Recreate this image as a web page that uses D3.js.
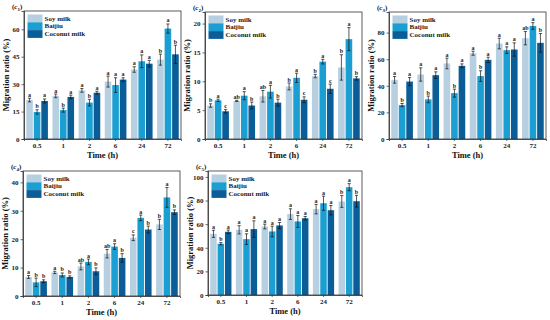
<!DOCTYPE html>
<html lang="en">
<head>
<meta charset="UTF-8">
<title>Migration ratio over time</title>
<script src="https://d3js.org/d3.v7.min.js"></script>
<style>
  body { margin: 0; background: #fff; }
  svg text { font-family: "Liberation Serif", "Times New Roman", serif; font-weight: bold; }
</style>
</head>
<body>
<div id="chart"></div>
<script>
// categories
const times = ["0.5", "1", "2", "6", "24", "72"];
const series = ["Soy milk", "Baijiu", "Coconut milk"];
const colors = ["#b7d0e1", "#1b9fd3", "#0b5d97"];

// (c1) rows: soy, baijiu, coconut
const c1Means = [[21.3, 23.6, 26.6, 31.4, 38.0, 43.4], [14.8, 15.8, 19.9, 29.5, 42.5, 60.4], [20.8, 23.0, 25.3, 32.5, 41.2, 46.3]];
const c1Errors = [[1.0, 1.0, 1.0, 3.0, 1.5, 3.0], [1.2, 1.1, 1.8, 4.0, 3.5, 2.5], [1.1, 1.0, 0.8, 1.0, 1.8, 5.0]];
const c1Letters = [["a", "a", "a", "a", "a", "b"], ["b", "b", "b", "a", "a", "a"], ["a", "a", "a", "a", "a", "b"]];
const c1Ticks = [0, 15, 30, 45, 60];

// (c2)
const c2Means = [[5.8, 6.6, 7.4, 9.1, 10.9, 12.4], [6.7, 7.5, 8.2, 10.6, 13.4, 17.3], [4.8, 5.8, 6.3, 6.8, 8.7, 10.5]];
const c2Errors = [[0.3, 0.1, 1.0, 0.6, 0.3, 2.2], [0.2, 0.7, 1.1, 0.8, 0.4, 2.0], [0.3, 0.6, 0.6, 0.5, 0.8, 0.3]];
const c2Letters = [["b", "ab", "ab", "b", "b", "b"], ["a", "a", "a", "a", "a", "a"], ["c", "b", "b", "c", "c", "b"]];
const c2Ticks = [0, 5, 10, 15, 20];

// (c3)
const c3Means = [[44.5, 48.5, 56.8, 64.5, 71.8, 75.8], [25.5, 29.8, 34.5, 47.3, 66.8, 85.0], [43.2, 48.0, 55.0, 59.5, 67.3, 72.3]];
const c3Errors = [[2.5, 5.0, 4.0, 1.5, 4.0, 5.0], [1.2, 2.5, 3.0, 4.0, 2.5, 2.5], [3.0, 2.5, 1.5, 2.0, 5.0, 7.0]];
const c3Letters = [["a", "a", "a", "a", "a", "ab"], ["b", "b", "b", "b", "a", "a"], ["a", "a", "a", "a", "a", "b"]];
const c3Ticks = [0, 20, 40, 60, 80];

// (c4)
const c4Means = [[6.7, 8.3, 10.4, 14.9, 20.5, 25.2], [4.8, 7.4, 12.0, 17.4, 27.5, 34.7], [5.2, 6.7, 8.7, 13.4, 23.4, 29.5]];
const c4Errors = [[0.5, 0.4, 1.2, 1.5, 1.0, 1.8], [1.5, 0.7, 1.0, 1.0, 1.0, 3.5], [0.5, 0.4, 1.2, 1.5, 1.2, 0.8]];
const c4Letters = [["a", "a", "ab", "ab", "c", "b"], ["b", "b", "a", "a", "a", "a"], ["b", "b", "b", "b", "b", "b"]];
const c4Ticks = [0, 10, 20, 30, 40];

// (c5)
const c5Means = [[51.8, 55.2, 58.0, 68.5, 72.7, 79.2], [43.4, 47.3, 53.8, 62.3, 77.7, 91.3], [53.5, 55.8, 58.9, 65.0, 71.8, 79.4]];
const c5Errors = [[3.0, 3.5, 2.0, 4.5, 4.0, 5.0], [1.0, 4.5, 4.5, 5.0, 6.0, 3.0], [1.5, 7.0, 2.5, 1.5, 4.0, 5.0]];
const c5Letters = [["a", "a", "a", "a", "a", "b"], ["b", "a", "a", "a", "a", "a"], ["a", "a", "a", "a", "a", "b"]];
const c5Ticks = [0, 20, 40, 60, 80, 100];

const svg = d3.select("#chart").append("svg")
    .attr("width", 550)
    .attr("height", 320);

// panel frames (px) and y limits
const panels = [
    {sub: "1", left: 24, top: 11, width: 157, height: 128, max: 70, ticks: c1Ticks, means: c1Means, errs: c1Errors, letters: c1Letters},
    {sub: "2", left: 205, top: 12, width: 157, height: 127, max: 22, ticks: c2Ticks, means: c2Means, errs: c2Errors, letters: c2Letters},
    {sub: "3", left: 389, top: 12, width: 157, height: 127, max: 95.5, ticks: c3Ticks, means: c3Means, errs: c3Errors, letters: c3Letters},
    {sub: "4", left: 23, top: 171, width: 157, height: 125, max: 44, ticks: c4Ticks, means: c4Means, errs: c4Errors, letters: c4Letters},
    {sub: "5", left: 208, top: 171, width: 154, height: 124, max: 105, ticks: c5Ticks, means: c5Means, errs: c5Errors, letters: c5Letters}
];

panels.forEach(drawPanel);

function drawPanel(p) {
    const g = svg.append("g").attr("transform", `translate(${p.left},${p.top})`);
    const w = p.width, h = p.height;

    const x = d3.scaleBand().domain(times).range([0, w]);
    const xs = d3.scaleBand().domain(d3.range(series.length)).range([0, x.bandwidth()])
        .paddingInner(0.12).paddingOuter(0.3);
    const y = d3.scaleLinear().domain([0, p.max]).range([h, 0]);

    // bars
    series.forEach((s, si) => {
        const rows = times.map((t, ti) => ({t, v: p.means[si][ti], e: p.errs[si][ti], l: p.letters[si][ti]}));
        const grp = g.append("g");
        grp.selectAll("rect").data(rows).enter().append("rect")
            .attr("x", d => x(d.t) + xs(si))
            .attr("y", d => y(d.v))
            .attr("width", xs.bandwidth())
            .attr("height", d => h - y(d.v))
            .attr("fill", colors[si]);

        const cx = d => x(d.t) + xs(si) + xs.bandwidth() / 2;
        // error bars
        grp.selectAll("line.err").data(rows).enter().append("line")
            .attr("x1", cx).attr("x2", cx)
            .attr("y1", d => y(d.v - d.e)).attr("y2", d => y(d.v + d.e))
            .attr("stroke", "#111").attr("stroke-width", 0.7);
        ["-", "+"].forEach(sign => {
            grp.selectAll(null).data(rows).enter().append("line")
                .attr("x1", d => cx(d) - 1.6).attr("x2", d => cx(d) + 1.6)
                .attr("y1", d => y(sign === "+" ? d.v + d.e : d.v - d.e))
                .attr("y2", d => y(sign === "+" ? d.v + d.e : d.v - d.e))
                .attr("stroke", "#111").attr("stroke-width", 0.7);
        });
        // significance letters
        grp.selectAll("text").data(rows).enter().append("text")
            .attr("x", cx)
            .attr("y", d => y(d.v + d.e) - 1.5)
            .attr("text-anchor", "middle")
            .style("font-size", "6px")
            .style("fill", "#222")
            .text(d => d.l);
    });

    // frame
    g.append("rect")
        .attr("width", w).attr("height", h)
        .attr("fill", "none").attr("stroke", "#333").attr("stroke-width", 0.8);

    // axes
    const xAxis = g.append("g").attr("transform", `translate(0,${h})`)
        .call(d3.axisBottom(x).tickSize(2).tickPadding(2));
    const yAxis = g.append("g")
        .call(d3.axisLeft(y).tickValues(p.ticks).tickSize(2.5).tickPadding(2));
    [xAxis, yAxis].forEach(a => {
        a.select(".domain").attr("stroke", "#333").attr("stroke-width", 0.8);
        a.selectAll(".tick line").attr("stroke", "#333").attr("stroke-width", 0.7);
        a.selectAll(".tick text")
            .style("font-family", "Liberation Serif, serif")
            .style("font-weight", "bold")
            .style("font-size", "7px")
            .attr("fill", "#222");
    });

    // axis titles
    g.append("text")
        .attr("x", w / 2).attr("y", h + 18.5)
        .attr("text-anchor", "middle")
        .style("font-size", "8.5px").style("fill", "#111")
        .text("Time (h)");
    g.append("text")
        .attr("transform", "rotate(-90)")
        .attr("x", -h / 2).attr("y", -15.5)
        .attr("text-anchor", "middle")
        .style("font-size", "8.5px").style("fill", "#111")
        .text("Migration ratio (%)");

    // panel label
    const lab = g.append("text")
        .attr("x", -12).attr("y", -2)
        .style("font-size", "7px").style("fill", "#111");
    lab.append("tspan").text("(");
    lab.append("tspan").style("font-style", "italic").text("c");
    lab.append("tspan").attr("dy", 1.5).style("font-size", "5px").text(p.sub);
    lab.append("tspan").attr("dy", -1.5).text(")");

    // legend
    const leg = g.append("g").attr("transform", "translate(3.5,3.5)");
    series.forEach((s, si) => {
        leg.append("rect")
            .attr("x", 0).attr("y", si * 7.8)
            .attr("width", 15).attr("height", 7.8)
            .attr("fill", colors[si]);
        leg.append("text")
            .attr("x", 17).attr("y", si * 7.8 + 6)
            .style("font-size", "7px").style("fill", "#222")
            .text(s);
    });
}
</script>
</body>
</html>
